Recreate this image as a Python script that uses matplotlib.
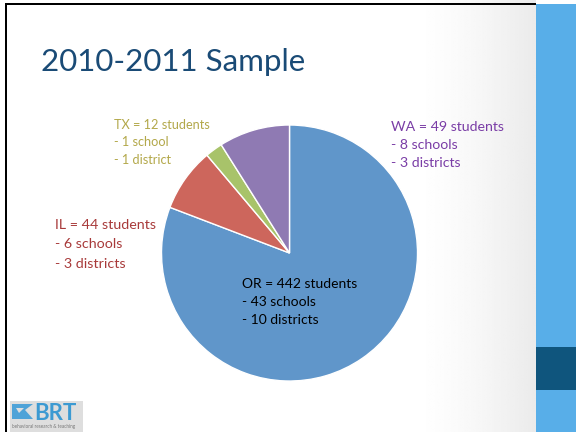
import numpy as np
import matplotlib
matplotlib.use("Agg")
import matplotlib.pyplot as plt
from matplotlib.patches import Rectangle, Polygon

# ---- data ----
states = ["OR", "IL", "TX", "WA"]
students = [442, 44, 12, 49]
schools = [43, 6, 1, 8]
districts = [10, 3, 1, 3]
title = "2010-2011 Sample"

slice_colors = ["#6096CA", "#CD665C", "#A8C36A", "#8F7AB3"]
label_colors = ["#000000", "#A83A3A", "#B3A84A", "#7A3DA6"]

W, H = 576, 432
fig = plt.figure(figsize=(W / 100, H / 100), dpi=100)
ax = fig.add_axes([0, 0, 1, 1])
ax.set_xlim(0, W)
ax.set_ylim(0, H)
ax.set_aspect("equal")
ax.axis("off")


def Y(y):
    """Convert a top-down pixel row to axes y."""
    return H - y


FONT = "Lato"

# slide background: white fading to light grey on the right
grad = np.ones((2, 300))
xs = np.linspace(0, 536, 300)
grad[:] = np.where(xs < 410, 1.0, 1.0 - 0.08 * ((xs - 410) / 126) ** 1.5)
ax.imshow(grad, extent=(0, 536, 0, H), cmap="gray", vmin=0, vmax=1,
          aspect="auto", zorder=0, interpolation="bilinear")

# right side bar
ax.add_patch(Rectangle((536, 0), 40, Y(4), color="#58AEE8", zorder=1, lw=0))
ax.add_patch(Rectangle((536, Y(390)), 40, 43, color="#0F557D", zorder=2, lw=0))

# frame lines
ax.add_patch(Rectangle((5, Y(5)), 531, 2.2, color="black", zorder=3, lw=0))
ax.add_patch(Rectangle((5, 0), 2.2, Y(3), color="black", zorder=3, lw=0))

# title
ax.text(41, Y(71), title, fontsize=22.5, color="#1A4B76", family=FONT,
        ha="left", va="baseline", zorder=5)

# pie
center = (289.5, Y(253))
radius = 128
ax.pie(students, colors=slice_colors, startangle=90, counterclock=False,
       explode=[0.025, 0, 0, 0], center=center, radius=radius,
       wedgeprops=dict(edgecolor="white", linewidth=1.0), frame=True)
ax.set_xlim(0, W)
ax.set_ylim(0, H)
ax.axis("off")

# slice annotations: (x, first baseline, line spacing, font size)
label_pos = {
    "OR": (242, 288, 18, 10),
    "IL": (55, 229, 19.3, 10.3),
    "TX": (114, 129, 17.5, 9.2),
    "WA": (391, 131, 18, 10.2),
}
for st, n, sc, di, col in zip(states, students, schools, districts, label_colors):
    x, yb, dy, fs = label_pos[st]
    lines = [f"{st} = {n} students",
             f"- {sc} school" + ("s" if sc != 1 else ""),
             f"- {di} district" + ("s" if di != 1 else "")]
    for i, line in enumerate(lines):
        ax.text(x, Y(yb + i * dy), line, fontsize=fs, color=col, family=FONT,
                ha="left", va="baseline", zorder=6)

# logo block
ax.add_patch(Rectangle((10, 0), 73, Y(401), color="#DEDEDE", zorder=4, lw=0))
ax.add_patch(Polygon([(12, Y(404)), (33, Y(404)), (25, Y(410)), (33, Y(419)),
                      (12, Y(419))], closed=True, color="#4FA3D8", zorder=5, lw=0))
ax.add_patch(Polygon([(16, Y(408)), (24, Y(408)), (19, Y(413))], closed=True,
                     color="#DEDEDE", zorder=6, lw=0))
ax.text(34, Y(420), "BRT", fontsize=16, fontweight="bold", color="#3C9AD2",
        family=FONT, ha="left", va="baseline", zorder=6)
ax.text(12, Y(428), "behavioral research & teaching", fontsize=3.3,
        color="#777777", family=FONT, ha="left", va="baseline", zorder=6)

fig.savefig("out.png", dpi=100)
